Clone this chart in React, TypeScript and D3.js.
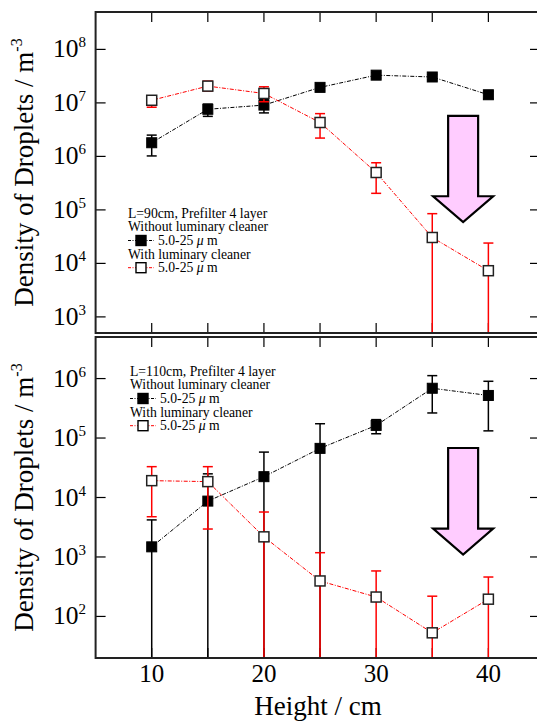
import React from "react";
import * as d3 from "d3";

const heights = [10, 15, 20, 25, 30, 35, 40];
const xTicks = [10, 15, 20, 25, 30, 35, 40];
const xLabelTicks = [10, 20, 30, 40];

// Top panel: L=90cm
const topWithout = [1.8e6, 7.6e6, 9.1e6, 1.95e7, 3.3e7, 3.05e7, 1.42e7];
const topWithoutLo = [1.02e6, 5.6e6, 6.5e6, 1.7e7, 2.9e7, 2.7e7, 1.2e7];
const topWithoutHi = [2.5e6, 9.5e6, 1.15e7, 2.2e7, 3.7e7, 3.4e7, 1.65e7];
const topWith = [1.12e7, 2.06e7, 1.5e7, 4.3e6, 5.0e5, 3.05e4, 7.3e3];
const topWithLo = [8.3e6, 1.66e7, 1.05e7, 2.2e6, 2.04e5, 0, 0];
const topWithHi = [1.3e7, 2.55e7, 2.0e7, 6.3e6, 7.6e5, 8.5e4, 2.4e4];
const topExps = [3, 4, 5, 6, 7, 8];

// Bottom panel: L=110cm
const botWithout = [1.48e3, 8.7e3, 2.24e4, 6.7e4, 1.63e5, 6.87e5, 5.2e5];
const botWithoutLo = [0, 0, 0, 0, 1.18e5, 2.64e5, 1.32e5];
const botWithoutHi = [4.2e3, 2.5e4, 5.8e4, 1.74e5, 2.04e5, 1.12e6, 9.0e5];
const botWith = [1.92e4, 1.85e4, 2.18e3, 395, 212, 53, 195];
const botWithLo = [4.75e3, 2.95e3, 0, 0, 0, 0, 0];
const botWithHi = [3.3e4, 3.3e4, 5.7e3, 1.18e3, 582, 219, 460];
const botExps = [2, 3, 4, 5, 6];

const FONT = "Liberation Serif, Times New Roman, DejaVu Serif, serif";
const RED = "#ff0000";
const PINK = "#ffccff";
const DASH = "4,1.5,1,1.5";

const xScale = d3.scaleLinear().domain([5, 44.6]).range([95.6, 540]);

type PanelProps = {
  top: number;
  bottom: number;
  yDomain: [number, number];
  exps: number[];
  without: number[];
  withoutLo: number[];
  withoutHi: number[];
  withC: number[];
  withLo: number[];
  withHi: number[];
  title: string;
  legendX: number;
  legendY: number;
  arrow: { x: number; shaftTop: number; shaftBottom: number; tip: number };
  showXLabels: boolean;
};

function Panel(p: PanelProps) {
  const y = d3.scaleLog().domain(p.yDomain).range([p.bottom, p.top]);
  const clampY = (v: number) => (v <= p.yDomain[0] ? p.bottom : Math.min(p.bottom, Math.max(p.top, y(v))));
  const line = d3
    .line<number>()
    .x((_, i) => xScale(heights[i]))
    .y((v) => y(v));
  const left = xScale.range()[0];
  const right = xScale.range()[1];
  const tl = 10;
  const ms = 10;

  const errBars = (vals: number[], lo: number[], hi: number[], color: string) =>
    vals.map((_, i) => {
      const cx = xScale(heights[i]);
      const y1 = clampY(hi[i]);
      const y2 = clampY(lo[i]);
      return (
        <g key={i} stroke={color} strokeWidth={1.5}>
          <line x1={cx} x2={cx} y1={y1} y2={y2} />
          <line x1={cx - 5} x2={cx + 5} y1={y1} y2={y1} />
          <line x1={cx - 5} x2={cx + 5} y1={y2} y2={y2} />
        </g>
      );
    });

  const a = p.arrow;
  const ax = xScale(a.x);
  const sw = 15;
  const hw = 30;
  const sT = y(a.shaftTop);
  const sB = y(a.shaftBottom);
  const tp = y(a.tip);
  const arrowPath = `M${ax - sw},${sT} L${ax + sw},${sT} L${ax + sw},${sB} L${ax + hw},${sB} L${ax},${tp} L${ax - hw},${sB} L${ax - sw},${sB} Z`;

  const mid = (p.top + p.bottom) / 2;
  const lx = p.legendX;
  const ly = p.legendY;
  const ls = 13.6;

  const legendSym = (row: number, filled: boolean, color: string) => {
    const cy = ly + ls * row;
    return (
      <g>
        <line x1={lx} x2={lx + 26} y1={cy} y2={cy} stroke={color} strokeWidth={1} strokeDasharray="3,1.5,1,1.5" />
        <rect x={lx + 13 - 5} y={cy - 5} width={10} height={10} fill={filled ? "#000" : "#fff"} stroke="#000" strokeWidth={1.4} />
        <text x={lx + 30} y={cy + 4.5} fontSize={13.7} fontFamily={FONT}>
          5.0-25 <tspan fontStyle="italic">μ</tspan> m
        </text>
      </g>
    );
  };

  return (
    <g>
      {xTicks.map((t) => (
        <g key={"xt" + t} stroke="#000" strokeWidth={1.2}>
          <line x1={xScale(t)} x2={xScale(t)} y1={p.bottom} y2={p.bottom - tl} />
          <line x1={xScale(t)} x2={xScale(t)} y1={p.top} y2={p.top + tl} />
        </g>
      ))}
      {p.exps.map((e) => (
        <g key={"yt" + e}>
          <line x1={left} x2={left + tl} y1={y(Math.pow(10, e))} y2={y(Math.pow(10, e))} stroke="#000" strokeWidth={1.2} />
          <line x1={right} x2={right - tl} y1={y(Math.pow(10, e))} y2={y(Math.pow(10, e))} stroke="#000" strokeWidth={1.2} />
          <text x={86} y={y(Math.pow(10, e)) + 8} fontSize={25.5} fontFamily={FONT} textAnchor="end">
            10<tspan fontSize={15} dy={-10}>{e}</tspan>
          </text>
        </g>
      ))}
      {p.showXLabels &&
        xLabelTicks.map((t) => (
          <text key={"xl" + t} x={xScale(t)} y={p.bottom + 24} fontSize={25} fontFamily={FONT} textAnchor="middle">
            {t}
          </text>
        ))}
      <text transform={`translate(33,${mid}) rotate(-90)`} fontSize={27} fontFamily={FONT} textAnchor="middle">
        Density of Droplets / m<tspan fontSize={16} dy={-11}>-3</tspan>
      </text>

      <path d={arrowPath} fill={PINK} stroke="#000" strokeWidth={2.2} strokeLinejoin="miter" />

      <path d={line(p.without) || ""} fill="none" stroke="#000" strokeWidth={1} strokeDasharray={DASH} />
      {errBars(p.without, p.withoutLo, p.withoutHi, "#000")}
      {p.without.map((v, i) => (
        <rect key={"bm" + i} x={xScale(heights[i]) - ms / 2} y={y(v) - ms / 2} width={ms} height={ms} fill="#000" stroke="#000" strokeWidth={1} />
      ))}

      <path d={line(p.withC) || ""} fill="none" stroke={RED} strokeWidth={1} strokeDasharray={DASH} />
      {errBars(p.withC, p.withLo, p.withHi, RED)}
      {p.withC.map((v, i) => (
        <rect key={"rm" + i} x={xScale(heights[i]) - ms / 2} y={y(v) - ms / 2} width={ms} height={ms} fill="#fff" stroke="#222" strokeWidth={1.5} />
      ))}

      <g fontFamily={FONT} fontSize={13.7}>
        <text x={lx} y={ly - ls * 2 + 4.5}>{p.title}</text>
        <text x={lx} y={ly - ls + 4.5}>Without luminary cleaner</text>
        {legendSym(0, true, "#000")}
        <text x={lx} y={ly + ls + 4.5}>With luminary cleaner</text>
        {legendSym(2, false, RED)}
      </g>

      <rect x={left} y={p.top} width={right - left} height={p.bottom - p.top} fill="none" stroke="#222" strokeWidth={2} />
    </g>
  );
}

export default function App() {
  return (
    <svg width={537} height={721} style={{ position: "absolute", left: 0, top: 0, background: "#fff" }}>
      <rect width={537} height={721} fill="#fff" />
      <Panel
        top={12}
        bottom={333}
        yDomain={[500, 5e8]}
        exps={topExps}
        without={topWithout}
        withoutLo={topWithoutLo}
        withoutHi={topWithoutHi}
        withC={topWith}
        withLo={topWithLo}
        withHi={topWithHi}
        title="L=90cm, Prefilter 4 layer"
        legendX={128}
        legendY={240.5}
        arrow={{ x: 37.75, shaftTop: 5.7e6, shaftBottom: 1.8e5, tip: 5.9e4 }}
        showXLabels={false}
      />
      <Panel
        top={337}
        bottom={658}
        yDomain={[20, 5e6]}
        exps={botExps}
        without={botWithout}
        withoutLo={botWithoutLo}
        withoutHi={botWithoutHi}
        withC={botWith}
        withLo={botWithLo}
        withHi={botWithHi}
        title="L=110cm, Prefilter 4 layer"
        legendX={130}
        legendY={398.5}
        arrow={{ x: 37.75, shaftTop: 6.8e4, shaftBottom: 3.0e3, tip: 1.1e3 }}
        showXLabels={true}
      />
      <text x={318} y={715} fontSize={27} fontFamily={FONT} textAnchor="middle">
        Height / cm
      </text>
    </svg>
  );
}
